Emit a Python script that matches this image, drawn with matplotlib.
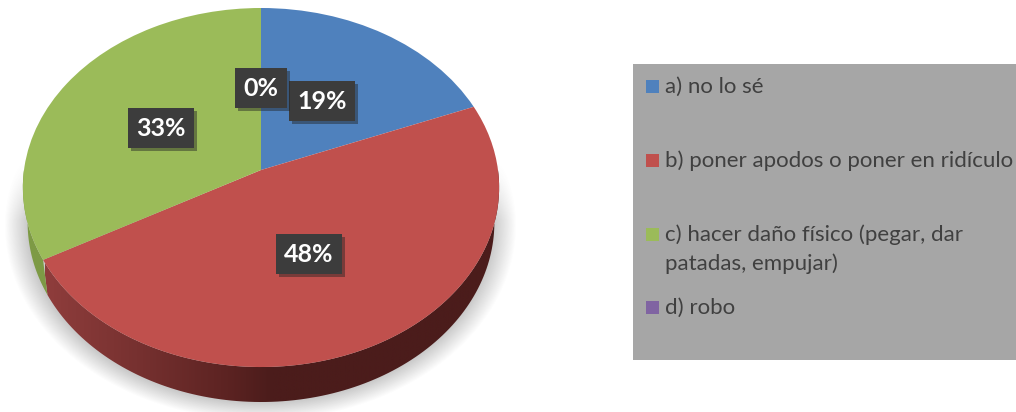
import numpy as np
import matplotlib
matplotlib.use('Agg')
import matplotlib.pyplot as plt
import matplotlib.patheffects as pe
from matplotlib.colors import LinearSegmentedColormap
from matplotlib.patches import Rectangle
from matplotlib.transforms import Transform

plt.rcParams['font.family'] = ['Lato', 'DejaVu Sans']

categories = ['a) no lo sé', 'b) poner apodos o poner en ridículo',
              'c) hacer daño físico (pegar, dar\npatadas, empujar)', 'd) robo']
values = [19, 48, 33, 0]
colors = ['#4f81bd', '#c0504d', '#9bbb59', '#8064a2']

# layout, in pixels of the 1016x412 image
cx, cy, rx, ry, tilt = 261, 170, 237, 177.8, 0.0975
depth = 35
label_xy = [(322, 101), (309, 254), (161, 128), (261, 88)]
legend_y = [87, 161, 235, 308]


class PieTilt(Transform):
    # the tilted disc of a 3d pie, far edge smaller than the near edge
    input_dims = output_dims = 2

    def transform_non_affine(self, xy):
        xy = np.asarray(xy, dtype=float)
        w = 1 + tilt * xy[:, 1]
        return np.column_stack([cx + rx * xy[:, 0] / w, cy - ry * xy[:, 1] / w])


fig = plt.figure(figsize=(10.16, 4.12), dpi=100)
ax = fig.add_axes([0, 0, 1, 1])
tilted = PieTilt()

wedges, _ = ax.pie(values, colors=colors, startangle=90, counterclock=False)
ax.set_aspect('auto')
for w in wedges:
    w.set_transform(tilted + ax.transData)
    w.set_clip_on(False)
    w.set_zorder(4)

# soft shadow under the pie
gx, gy = np.meshgrid(np.arange(0, 530), np.arange(150, 412))
dist = np.hypot((gx - 260) / 256, (gy - 225) / 195)
shadow = np.clip((1 - dist) * 11, 0, 1) * np.clip((gy - 160) / 60, 0, 1)
shadow_img = np.zeros(shadow.shape + (4,))
shadow_img[..., :3] = 0.35
shadow_img[..., 3] = shadow * 0.32
ax.imshow(shadow_img, extent=(0, 530, 412, 150), aspect='auto', zorder=1)


def wall(theta1, theta2):
    t = np.radians(np.linspace(theta1, theta2, 120))
    rim = tilted.transform_non_affine(np.column_stack([np.cos(t), np.sin(t)]))
    low = rim[::-1] + [0, depth]
    low[:, 0] = cx + (low[:, 0] - cx) * 0.98
    return np.vstack([rim, low])


# side wall, only the near half of each wedge shows
red_poly = wall(wedges[1].theta1, 0)
red_patch = ax.fill(red_poly[:, 0], red_poly[:, 1], color='none', zorder=2)[0]
wall_cmap = LinearSegmentedColormap.from_list(
    'wall', [(0, '#8f3d3c'), (0.2, '#773130'), (0.4, '#5c2322'), (0.5, '#4b1c1b'), (1, '#4b1c1b')])
grad = ax.imshow(np.linspace(0, 1, 512)[None, :], cmap=wall_cmap, vmin=0, vmax=1,
                 extent=(45, 500, 412, 150), aspect='auto', zorder=2)
grad.set_clip_path(red_patch)

green_poly = wall(-180, wedges[2].theta2)
ax.fill(green_poly[:, 0], green_poly[:, 1], color='#7d9a45', lw=0, zorder=2)

# value boxes
for v, (lx, ly) in zip(values, label_xy):
    t = ax.text(lx, ly, f'{v}%', color='white', fontsize=18, fontweight='bold',
                ha='center', va='center', zorder=6,
                bbox=dict(boxstyle='square,pad=0.34', fc='#3c3c3c', ec='none'))
    t.get_bbox_patch().set_path_effects([
        pe.SimplePatchShadow(offset=(2, -2), shadow_rgbFace='#222222', alpha=0.45), pe.Normal()])

# legend panel
ax.add_patch(Rectangle((633, 64), 383, 296, fc='#a6a6a6', ec='none', zorder=1))
for name, col, ly in zip(categories, colors, legend_y):
    ax.add_patch(Rectangle((646, ly - 7), 13, 13, fc=col, ec='none', zorder=2))
    ax.text(665, ly - 10.5, name, color='#404040', fontsize=16, va='top', ha='left',
            linespacing=1.5, zorder=3)

ax.set_xlim(0, 1016)
ax.set_ylim(412, 0)
ax.axis('off')
fig.savefig('out.png', dpi=100, facecolor='white')
